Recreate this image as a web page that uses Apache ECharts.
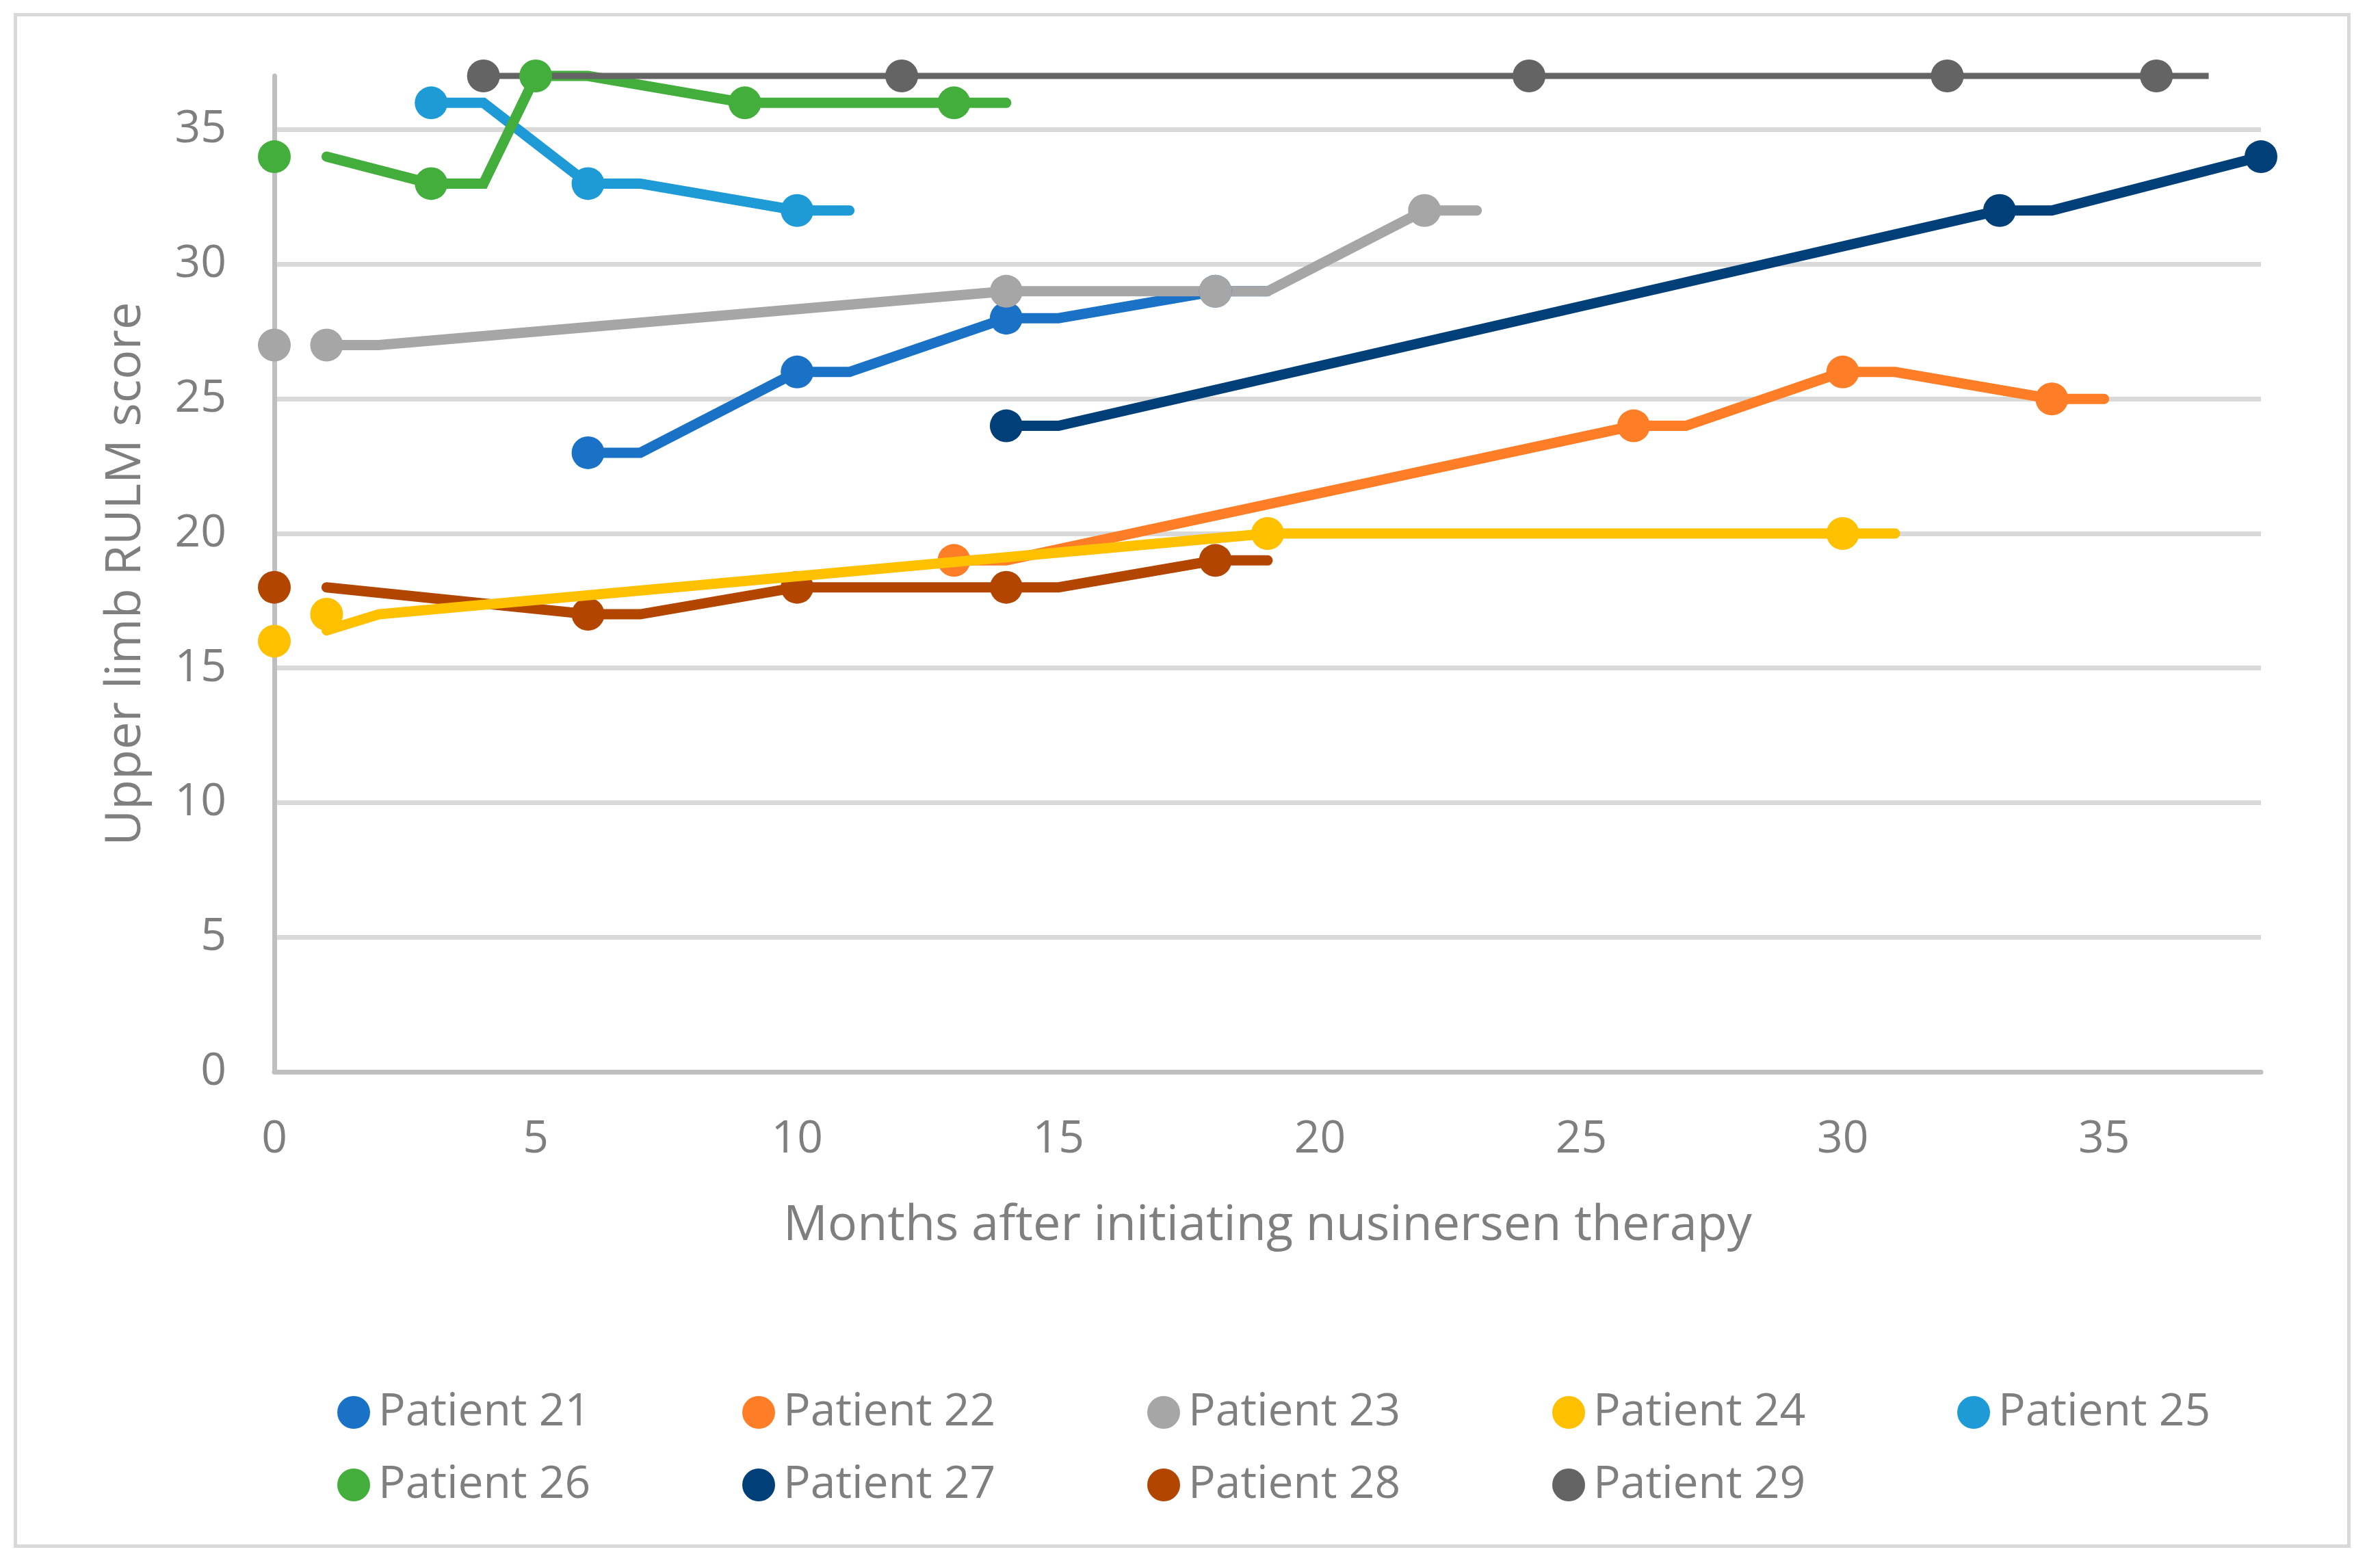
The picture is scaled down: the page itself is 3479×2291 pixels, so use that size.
<!DOCTYPE html>
<html>
<head>
<meta charset="utf-8">
<script src="https://cdn.jsdelivr.net/npm/echarts@6/dist/echarts.min.js"></script>
<style>
html,body{margin:0;padding:0;background:#fff;width:3479px;height:2291px;overflow:hidden}
#frame{position:absolute;left:20px;top:19px;width:3406px;height:2234px;border:5px solid #D9D9D9;}
#chart{position:absolute;left:0;top:0;width:3479px;height:2291px}
</style>
</head>
<body>
<div id="frame"></div>
<div id="chart"></div>
<script>
// ---- data ----
const patients = ['Patient 21','Patient 22','Patient 23','Patient 24','Patient 25','Patient 26','Patient 27','Patient 28','Patient 29'];
const colors = ['#1A72C6','#FD7E27','#A6A6A6','#FFC000','#1E9BD7','#43AE3C','#003F78','#B24600','#646464'];

// measured scores (markers): [month, RULM score]
const p21Points = [[6,23],[10,26],[14,28],[18,29]];
const p22Points = [[13,19],[26,24],[30,26],[34,25]];
const p23Points = [[0,27],[1,27],[14,29],[18,29],[22,32]];
const p24Points = [[0,16],[1,17],[19,20],[30,20]];
const p25Points = [[3,36],[6,33],[10,32]];
const p26Points = [[0,34],[3,33],[5,37],[9,36],[13,36]];
const p27Points = [[14,24],[33,32],[38,34]];
const p28Points = [[0,18],[6,17],[10,18],[14,18],[18,19]];
const p29Points = [[4,37],[12,37],[24,37],[32,37],[36,37]];

// connecting line vertices as drawn: [month, RULM score]
const p21Line = [[6,23],[7,23],[10,26],[11,26],[14,28],[15,28],[18,29],[19,29]];
const p22Line = [[13,19],[14,19],[26,24],[27,24],[30,26],[31,26],[34,25],[35,25]];
const p23Line = [[1,27],[2,27],[14,29],[15,29],[18,29],[19,29],[22,32],[23,32]];
const p24Line = [[1,16.4],[2,17],[19,20],[20,20],[30,20],[31,20]];
const p25Line = [[3,36],[4,36],[6,33],[7,33],[10,32],[11,32]];
const p26Line = [[1,34],[3,33],[4,33],[5,37],[6,37],[9,36],[10,36],[13,36],[14,36]];
const p27Line = [[14,24],[15,24],[33,32],[34,32],[38,34]];
const p28Line = [[1,18],[6,17],[7,17],[10,18],[11,18],[14,18],[15,18],[18,19],[19,19]];
const p29Line = [[4,37],[5,37],[12,37],[13,37],[24,37],[25,37],[32,37],[33,37],[36,37],[37,37]];

const xTicks = [0,5,10,15,20,25,30,35];
const yTicks = [0,5,10,15,20,25,30,35];

const pointSets = [p21Points,p22Points,p23Points,p24Points,p25Points,p26Points,p27Points,p28Points,p29Points];
const lineSets = [p21Line,p22Line,p23Line,p24Line,p25Line,p26Line,p27Line,p28Line,p29Line];

// ---- chart ----
const FONT = "'Open Sans', 'DejaVu Sans', sans-serif";
const TXT = '#7F7F7F';
const chart = echarts.init(document.getElementById('chart'), null, {renderer:'canvas'});

const series = [];
lineSets.forEach((d, i) => {
  const isThin = i === 8;
  series.push({
    name: patients[i] + ' line',
    type: 'line',
    data: d,
    symbol: 'none',
    showSymbol: false,
    clip: false,
    z: i === 3 ? 4 : 2,
    silent: true,
    lineStyle: {color: colors[i], width: isThin ? 9 : 15, cap: isThin ? 'butt' : 'round', join: 'miter'},
    itemStyle: {color: colors[i]},
    emphasis: {disabled: true},
    animation: false
  });
});
pointSets.forEach((d, i) => {
  series.push({
    name: patients[i],
    type: 'scatter',
    data: d,
    symbol: 'circle',
    symbolSize: 48,
    clip: false,
    z: 3,
    itemStyle: {color: colors[i], opacity: 1},
    emphasis: {disabled: true},
    animation: false
  });
});

chart.setOption({
  backgroundColor: 'transparent',
  animation: false,
  grid: {left: 401, right: 174, top: 111, bottom: 724, containLabel: false},
  xAxis: {
    type: 'value', min: 0, max: 38, interval: 5,
    name: 'Months after initiating nusinersen therapy',
    nameLocation: 'middle', nameGap: 189,
    nameTextStyle: {fontFamily: FONT, fontSize: 72, color: TXT},
    axisLine: {show: true, onZero: true, lineStyle: {color: '#BFBFBF', width: 7}},
    axisTick: {show: false},
    axisLabel: {
      show: true, margin: 66, fontFamily: FONT, fontSize: 66, color: TXT,
      showMaxLabel: false,
      formatter: v => (xTicks.indexOf(v) >= 0 ? String(v) : '')
    },
    splitLine: {show: false}
  },
  yAxis: {
    type: 'value', min: 0, max: 37, interval: 5,
    name: 'Upper limb RULM score',
    nameLocation: 'middle', nameGap: 181, nameRotate: 90,
    nameTextStyle: {fontFamily: FONT, fontSize: 72, color: TXT},
    axisLine: {show: true, onZero: true, lineStyle: {color: '#BFBFBF', width: 7}},
    axisTick: {show: false},
    axisLabel: {
      show: true, margin: 70, fontFamily: FONT, fontSize: 66, color: TXT,
      showMaxLabel: false,
      formatter: v => (yTicks.indexOf(v) >= 0 ? String(v) : '')
    },
    splitLine: {show: true, showMinLine: false, showMaxLine: false, lineStyle: {color: '#D9D9D9', width: 7}}
  },
  legend: {
    data: patients,
    orient: 'horizontal',
    left: 488, top: 2027, width: 2960,
    itemWidth: 48, itemHeight: 48, itemGap: 40,
    icon: 'circle',
    selectedMode: false,
    textStyle: {fontFamily: FONT, fontSize: 66, color: TXT, width: 492, lineHeight: 48, padding: [0,0,0,7]}
  },
  series: series
});
</script>
</body>
</html>
